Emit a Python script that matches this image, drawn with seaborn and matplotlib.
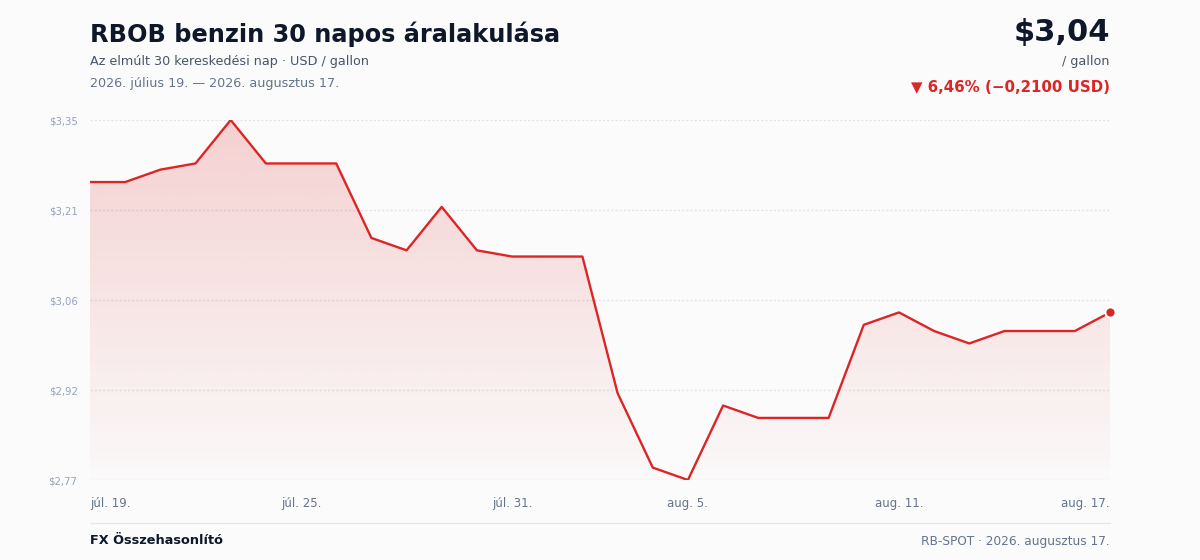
import matplotlib
matplotlib.use("Agg")
import matplotlib.pyplot as plt
import numpy as np
import pandas as pd
import seaborn as sns

# data
days = pd.date_range("2026-07-19", "2026-08-17", freq="D")
prices = [3.25, 3.25, 3.27, 3.28, 3.35, 3.28, 3.28, 3.28, 3.16, 3.14,
          3.21, 3.14, 3.13, 3.13, 3.13, 2.91, 2.79, 2.77, 2.89, 2.87,
          2.87, 2.87, 3.02, 3.04, 3.01, 2.99, 3.01, 3.01, 3.01, 3.04]
y_ticks = [2.77, 2.915, 3.06, 3.205, 3.35]
y_labels = ["$2,77", "$2,92", "$3,06", "$3,21", "$3,35"]
x_tick_days = ["2026-07-19", "2026-07-25", "2026-07-31", "2026-08-05", "2026-08-11", "2026-08-17"]
x_labels = ["júl. 19.", "júl. 25.", "júl. 31.", "aug. 5.", "aug. 11.", "aug. 17."]

RED = "#dc2626"
BG = "#fbfbfb"
DARK = "#0f172a"
GRAY = "#64748b"

df = pd.DataFrame({"day": days, "price": prices})

sns.set_theme(style="white")
plt.rcParams["font.family"] = ["DejaVu Sans"]

fig = plt.figure(figsize=(12, 5.6), dpi=100, facecolor=BG)
ax = fig.add_axes([0.075, 1 - 480 / 560, 0.85, 360 / 560])
ax.set_facecolor(BG)

x0, x1 = matplotlib.dates.date2num(days[0]), matplotlib.dates.date2num(days[-1])
ymin, ymax = y_ticks[0], y_ticks[-1]

# gradient fill under the line
poly = ax.fill_between(df["day"], df["price"], ymin, color="none", lw=0)
grad = np.zeros((256, 1, 4))
grad[:, 0, 0:3] = matplotlib.colors.to_rgb(RED)
grad[:, 0, 3] = np.linspace(0.20, 0.01, 256)
img = ax.imshow(grad, extent=[x0, x1, ymin, ymax], aspect="auto", origin="upper", zorder=1)
img.set_clip_path(poly.get_paths()[0], transform=ax.transData)

sns.lineplot(data=df, x="day", y="price", ax=ax, color=RED, lw=1.7, zorder=3)
ax.scatter([df["day"].iloc[-1]], [df["price"].iloc[-1]], s=55, color=RED,
           edgecolor="white", linewidth=1.5, zorder=4, clip_on=False)

ax.set_xlim(x0, x1)
ax.set_ylim(ymin, ymax)
ax.set_xlabel("")
ax.set_ylabel("")
for s in ax.spines.values():
    s.set_visible(False)

ax.set_yticks(y_ticks)
ax.set_yticklabels(y_labels, fontsize=7.3, color="#94a3b8")
for y in y_ticks:
    ax.axhline(y, color="#e0e4e9", lw=1, ls=(0, (1.5, 1.5)), zorder=0)

ax.set_xticks(pd.to_datetime(x_tick_days))
ax.set_xticklabels(x_labels, fontsize=8.5, color=GRAY)
labs = ax.get_xticklabels()
labs[0].set_ha("left")
labs[-1].set_ha("right")
ax.tick_params(axis="both", length=0)
ax.tick_params(axis="x", pad=12)
ax.tick_params(axis="y", pad=9)

# header
fig.text(90 / 1200, 1 - 34 / 560, "RBOB benzin 30 napos áralakulása", fontsize=17.3,
         fontweight="bold", color=DARK, va="center", ha="left")
fig.text(90 / 1200, 1 - 61 / 560, "Az elmúlt 30 kereskedési nap · USD / gallon",
         fontsize=9.2, color="#475569", va="center", ha="left")
fig.text(90 / 1200, 1 - 83 / 560, "2026. július 19. — 2026. augusztus 17.",
         fontsize=9.2, color=GRAY, va="center", ha="left")
fig.text(1110 / 1200, 1 - 33 / 560, "$3,04", fontsize=22, fontweight="bold",
         color=DARK, va="center", ha="right")
fig.text(1110 / 1200, 1 - 61 / 560, "/ gallon", fontsize=9.2, color="#475569",
         va="center", ha="right")
fig.text(1110 / 1200, 1 - 87 / 560, "▼ 6,46% (−0,2100 USD)", fontsize=10.8,
         fontweight="bold", color=RED, va="center", ha="right")

# footer
fig.add_artist(matplotlib.lines.Line2D([90 / 1200, 1110 / 1200], [1 - 523 / 560] * 2,
                                       color="#e5e7eb", lw=1))
fig.text(90 / 1200, 1 - 541 / 560, "FX Összehasonlító", fontsize=9.3,
         fontweight="bold", color=DARK, va="center", ha="left")
fig.text(1110 / 1200, 1 - 541 / 560, "RB-SPOT · 2026. augusztus 17.", fontsize=8.7,
         color=GRAY, va="center", ha="right")

fig.savefig("out.png", dpi=100, facecolor=BG)
